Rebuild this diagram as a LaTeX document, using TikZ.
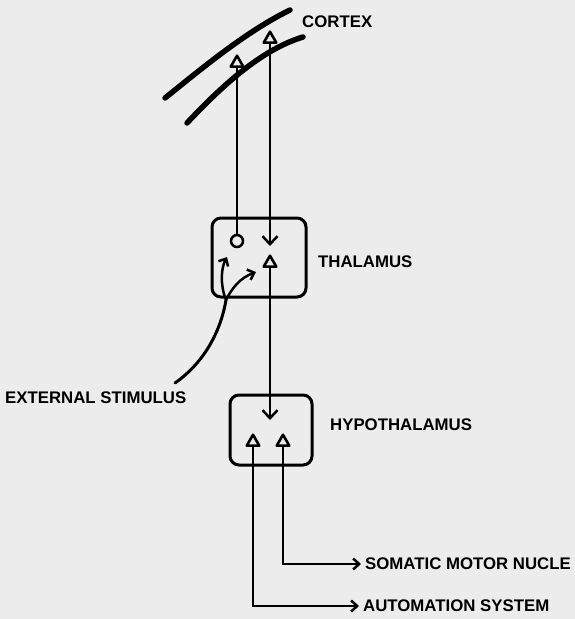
\documentclass[tikz,border=0pt]{standalone}
\usepackage{fontspec}
\setmainfont{Liberation Sans}
\usetikzlibrary{arrows.meta,shapes.geometric}
\definecolor{paper}{RGB}{236,236,236}
\begin{document}
\begin{tikzpicture}[x=1pt,y=-1pt,
 lab/.style={anchor=west,inner sep=0pt,font=\fontsize{16.8}{20}\selectfont\bfseries},
 box/.style={draw,line width=3pt,rounded corners=9pt,inner sep=0pt},
 syn/.style={draw,fill=paper,regular polygon,regular polygon sides=3,minimum size=14.5pt,inner sep=0pt,line width=2.6pt,line join=round},
 soma/.style={draw,circle,minimum size=12pt,inner sep=0pt,line width=2.5pt},
 cortexline/.style={line width=5.5pt,line cap=round},
 fib/.style={line width=2.5pt},
 bigtip/.style={-{Straight Barb[length=8pt,width=15pt]}},
 smalltip/.style={-{Straight Barb[length=6pt,width=11pt]}},
]
\fill[paper] (0,0) rectangle (575,619);
\useasboundingbox (0,0) rectangle (575,619);

% cortex
\draw[cortexline] (165,98) .. controls (200,70) and (245,32) .. (290,10);
\draw[cortexline] (187,123) .. controls (220,88) and (260,50) .. (303,37);

% nodes
\node[box,minimum width=94pt,minimum height=79pt] (thal) at (259,257.5) {};
\node[box,minimum width=82pt,minimum height=70pt] (hypo) at (271,430) {};
\node[syn] (cl) at (237,63) {};
\node[syn] (cr) at (270,39) {};
\node[soma] (som) at (237,241) {};
\node[syn] (tt) at (270,263) {};
\coordinate (tdown) at (270,246);
\coordinate (hdown) at (270,420);
\node[syn] (h1) at (253,442) {};
\node[syn] (h2) at (283,442) {};

% labels
\node[lab] (lcortex) at (302,22) {CORTEX};
\node[lab] (lthal) at (318,262) {THALAMUS};
\node[lab] (lhypo) at (330,425) {HYPOTHALAMUS};
\node[lab] (lext) at (5,398) {EXTERNAL STIMULUS};
\node[lab] (lsom) at (365,564) {SOMATIC MOTOR NUCLE};
\node[lab] (laut) at (363,606) {AUTOMATION SYSTEM};

% connectors
\draw[fib] (som.north) -- (cl.south);
\draw[fib,bigtip] (cr.south) -- (tdown);
\draw[fib,bigtip] (tt.south) -- (hdown);
\draw[fib,smalltip,shorten >=4pt] (h1.south) |- (laut.west);
\draw[fib,smalltip,shorten >=4pt] (h2.south) |- (lsom.west);

% external stimulus
\coordinate (es) at (175,383);
\coordinate (br) at (226,300);
\draw[line width=3pt,line cap=round] (es) .. controls (205,362) and (221,330) .. (br);
\draw[fib,smalltip] (br) .. controls (220,285) and (221,268) .. (227,257);
\draw[fib,smalltip] (br) .. controls (232,288) and (240,278) .. (256,272);
\end{tikzpicture}
\end{document}
